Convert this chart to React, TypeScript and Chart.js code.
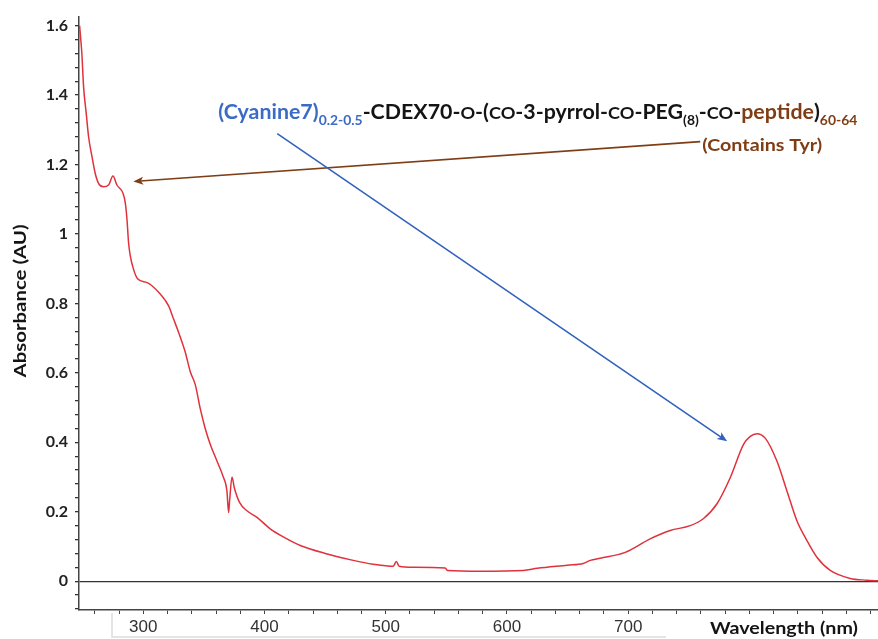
import React, { useEffect, useRef } from 'react';
import { Chart, registerables } from 'chart.js';

Chart.register(...registerables);

// ---- data ----
const wavelengths = [
  247.5, 249.4, 250.8, 253.0, 254.9, 257.7, 260.4, 263.1, 267.3, 271.4,
  275.0, 278.3, 283.3, 285.2, 286.6, 287.9, 289.3, 292.0, 295.3, 303.1,
  307.2, 314.0, 320.9, 325.0, 329.1, 334.6, 338.8, 342.9, 347.0, 351.1,
  355.3, 360.8, 365.7, 369.0, 370.4, 371.2, 373.2, 375.1, 379.4, 385.5,
  393.8, 404.7, 417.0, 429.5, 450.1, 473.2, 489.7, 506.2, 508.7, 511.1,
  522.7, 549.0, 551.0, 577.9, 613.4, 625.0, 649.7, 662.9, 668.7, 676.9,
  697.5, 718.1, 734.6, 751.1, 761.9, 773.2, 784.1, 795.1, 800.6, 806.1,
  813.0, 822.6, 830.9, 839.1, 847.4, 855.6, 866.6, 883.1, 896.9, 906.0,
];
const absorbance = [
  1.6, 1.517, 1.423, 1.346, 1.28, 1.223, 1.174, 1.146, 1.136, 1.141,
  1.167, 1.141, 1.117, 1.089, 1.041, 0.974, 0.937, 0.898, 0.871, 0.86,
  0.851, 0.827, 0.793, 0.755, 0.717, 0.66, 0.603, 0.566, 0.497, 0.44,
  0.394, 0.346, 0.303, 0.26, 0.198, 0.231, 0.3, 0.269, 0.227, 0.203,
  0.184, 0.151, 0.125, 0.103, 0.08, 0.06, 0.049, 0.043, 0.057, 0.043,
  0.04, 0.038, 0.031, 0.029, 0.031, 0.037, 0.046, 0.051, 0.06, 0.066,
  0.083, 0.122, 0.146, 0.16, 0.18, 0.223, 0.298, 0.394, 0.417, 0.425,
  0.412, 0.346, 0.26, 0.174, 0.117, 0.069, 0.031, 0.008, 0.003, 0.001,
];
const xTickLabels = [300, 400, 500, 600, 700];
const yTickLabels = [0, 0.2, 0.4, 0.6, 0.8, 1, 1.2, 1.4, 1.6];

const xTitle = 'Wavelength (nm)';
const yTitle = 'Absorbance (AU)';
const noteLabel = '(Contains Tyr)';

const BLUE = '#3b6bc6';
const BLUE_ARROW = '#3262bd';
const BROWN = '#7e3d14';
const BLACK = '#141414';

type Seg = { t: string; c: string; k: 'm' | 's' | 'c' };
const titleSegments: Seg[] = [
  { t: '(Cyanine7)', c: BLUE, k: 'm' },
  { t: '0.2-0.5', c: BLUE, k: 's' },
  { t: '-CDEX70-', c: BLACK, k: 'm' },
  { t: 'O', c: BLACK, k: 'c' },
  { t: '-(', c: BLACK, k: 'm' },
  { t: 'CO', c: BLACK, k: 'c' },
  { t: '-3-pyrrol-', c: BLACK, k: 'm' },
  { t: 'CO', c: BLACK, k: 'c' },
  { t: '-PEG', c: BLACK, k: 'm' },
  { t: '(8)', c: BLACK, k: 's' },
  { t: '-', c: BLACK, k: 'm' },
  { t: 'CO', c: BLACK, k: 'c' },
  { t: '-', c: BLACK, k: 'm' },
  { t: 'peptide', c: BROWN, k: 'm' },
  { t: ')', c: BLACK, k: 'm' },
  { t: '60-64', c: BROWN, k: 's' },
];

const FONT_FAMILY = 'Lato, "Open Sans", sans-serif';
const segFont = (k: string) =>
  k === 'm' ? `bold 20px ${FONT_FAMILY}` : k === 's' ? `bold 13px ${FONT_FAMILY}` : `bold 17px ${FONT_FAMILY}`;

function drawStretched(
  ctx: CanvasRenderingContext2D,
  text: string,
  x: number,
  y: number,
  width: number,
  font: string,
  color: string,
) {
  ctx.save();
  ctx.font = font;
  const w = ctx.measureText(text).width;
  ctx.translate(x, y);
  ctx.scale(width / w, 1);
  ctx.fillStyle = color;
  ctx.textAlign = 'left';
  ctx.textBaseline = 'alphabetic';
  ctx.fillText(text, 0, 0);
  ctx.restore();
}

function arrow(ctx: CanvasRenderingContext2D, x1: number, y1: number, x2: number, y2: number, color: string) {
  const ang = Math.atan2(y2 - y1, x2 - x1);
  const len = 10;
  const hw = 4;
  ctx.save();
  ctx.strokeStyle = color;
  ctx.fillStyle = color;
  ctx.lineWidth = 1.6;
  ctx.beginPath();
  ctx.moveTo(x1, y1);
  ctx.lineTo(x2 - Math.cos(ang) * len * 0.7, y2 - Math.sin(ang) * len * 0.7);
  ctx.stroke();
  ctx.beginPath();
  ctx.moveTo(x2, y2);
  ctx.lineTo(x2 - Math.cos(ang) * len + Math.sin(ang) * hw, y2 - Math.sin(ang) * len - Math.cos(ang) * hw);
  ctx.lineTo(x2 - Math.cos(ang) * len * 0.75, y2 - Math.sin(ang) * len * 0.75);
  ctx.lineTo(x2 - Math.cos(ang) * len - Math.sin(ang) * hw, y2 - Math.sin(ang) * len + Math.cos(ang) * hw);
  ctx.closePath();
  ctx.fill();
  ctx.restore();
}

const annotationPlugin = {
  id: 'annotations',
  afterDraw(chart: any) {
    const ctx: CanvasRenderingContext2D = chart.ctx;
    const xs = chart.scales.x;
    const ys = chart.scales.y;
    const px = (v: number) => xs.getPixelForValue(v);
    const py = (v: number) => ys.getPixelForValue(v);

    // faint box around the tick labels (as in the scanned figure)
    ctx.save();
    ctx.strokeStyle = '#dcdcdc';
    ctx.lineWidth = 1.5;
    ctx.beginPath();
    ctx.moveTo(112, 613);
    ctx.lineTo(112, 637);
    ctx.lineTo(666, 637);
    ctx.stroke();
    ctx.restore();

    // brown arrow (Contains Tyr) -> shoulder near 275 nm
    arrow(ctx, px(759.4), py(1.266), px(291.8), py(1.151), BROWN);
    // blue arrow (Cyanine7) -> peak near 800 nm
    arrow(ctx, px(410.5), py(1.289), px(781.6), py(0.403), BLUE_ARROW);

    // compound label
    const left = px(361.9);
    const right = px(888.9);
    const base = py(1.331);
    ctx.save();
    let total = 0;
    const widths = titleSegments.map((s) => {
      ctx.font = segFont(s.k);
      const w = ctx.measureText(s.t).width;
      total += w;
      return w;
    });
    const sx = (right - left) / total;
    ctx.translate(left, base);
    ctx.scale(sx, 1);
    ctx.textAlign = 'left';
    ctx.textBaseline = 'alphabetic';
    let cx = 0;
    titleSegments.forEach((s, i) => {
      ctx.font = segFont(s.k);
      ctx.fillStyle = s.c;
      ctx.fillText(s.t, cx, s.k === 's' ? 6 : 0);
      cx += widths[i];
    });
    ctx.restore();

    // (Contains Tyr)
    drawStretched(ctx, noteLabel, px(761), py(1.24), 120, `bold 17px ${FONT_FAMILY}`, BROWN);

    // x title
    drawStretched(ctx, xTitle, 710, 634, 148, `bold 17px ${FONT_FAMILY}`, BLACK);

    // y title (rotated)
    ctx.save();
    ctx.translate(26, 301);
    ctx.rotate(-Math.PI / 2);
    ctx.font = `bold 17px ${FONT_FAMILY}`;
    const w = ctx.measureText(yTitle).width;
    ctx.scale(153 / w, 1);
    ctx.fillStyle = BLACK;
    ctx.textAlign = 'center';
    ctx.textBaseline = 'alphabetic';
    ctx.fillText(yTitle, 0, 0);
    ctx.restore();
  },
};

export default function App() {
  const ref = useRef<HTMLCanvasElement>(null);

  useEffect(() => {
    document.body.style.margin = '0';
    const canvas = ref.current!;
    const chart = new Chart(canvas, {
      type: 'line',
      data: {
        datasets: [
          {
            data: wavelengths.map((x, i) => ({ x, y: absorbance[i] })),
            borderColor: '#e0323c',
            borderWidth: 1.5,
            pointRadius: 0,
            cubicInterpolationMode: 'monotone',
            fill: false,
          },
        ],
      },
      options: {
        responsive: false,
        animation: false,
        events: [],
        layout: { padding: { top: 12, left: 0, right: 0, bottom: 0 } },
        plugins: { legend: { display: false }, tooltip: { enabled: false } },
        scales: {
          x: {
            type: 'linear',
            min: 247,
            max: 906,
            ticks: {
              stepSize: 20,
              includeBounds: false,
              autoSkip: false,
              maxRotation: 0,
              padding: 3,
              color: '#333',
              font: { family: '"Liberation Sans", Arial, sans-serif', size: 17 },
              callback: (v: any) => (xTickLabels.includes(Math.round(Number(v))) ? String(Math.round(Number(v))) : ''),
            },
            grid: { drawOnChartArea: false, tickLength: 4, tickColor: '#444', lineWidth: 1 },
            border: { color: '#444', width: 1.5 },
            afterFit: (s: any) => {
              s.height = 29;
            },
          },
          y: {
            type: 'linear',
            min: -0.0829,
            max: 1.626,
            ticks: {
              stepSize: 0.04,
              includeBounds: false,
              autoSkip: false,
              padding: 7,
              color: '#222',
              font: { family: FONT_FAMILY, size: 16, weight: 'bold' },
              callback: (v: any) => {
                const r = Math.round(Number(v) * 100) / 100;
                const hit = yTickLabels.find((t) => Math.abs(t - r) < 1e-6);
                return hit !== undefined ? String(hit) : '';
              },
            },
            grid: {
              color: (c: any) => (c.tick && Math.abs(c.tick.value) < 1e-6 ? '#333' : 'rgba(0,0,0,0)'),
              tickColor: '#333',
              tickLength: 4,
              lineWidth: 1.3,
            },
            border: { color: '#444', width: 1.5 },
            afterFit: (s: any) => {
              s.width = 79;
            },
          },
        },
      },
      plugins: [annotationPlugin],
    } as any);
    return () => chart.destroy();
  }, []);

  return (
    <div style={{ position: 'absolute', left: 0, top: 0, width: 878, height: 639 }}>
      <canvas ref={ref} width={878} height={639} style={{ display: 'block', width: 878, height: 639 }} />
    </div>
  );
}
